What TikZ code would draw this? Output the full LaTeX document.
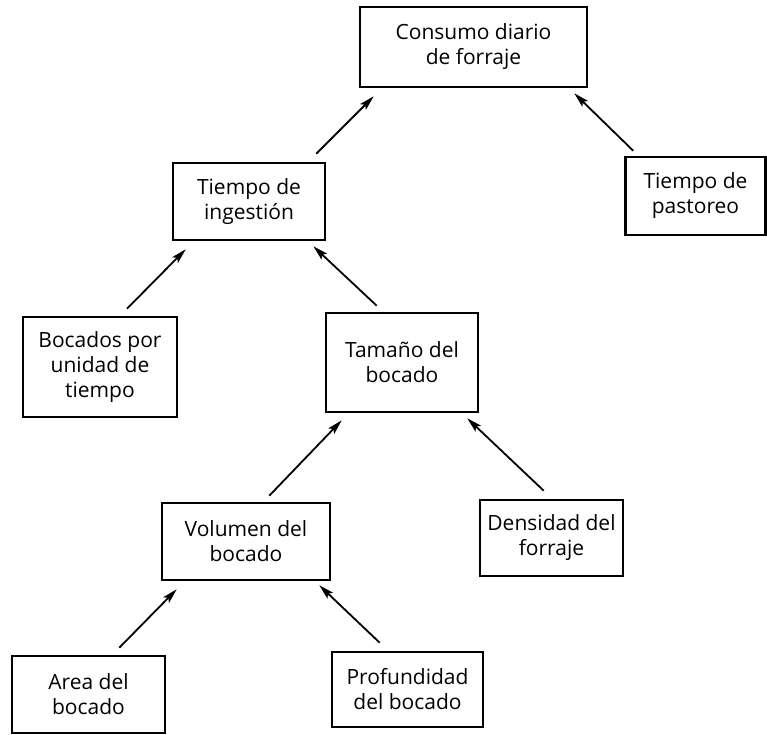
\documentclass[tikz,border=0pt]{standalone}
\usepackage{fontspec}
\setmainfont{Open Sans}
\usetikzlibrary{arrows.meta,calc}
\begin{document}
\begin{tikzpicture}[x=1pt,y=-1pt,
  box/.style={draw,line width=2.6pt,inner sep=0pt,align=center,
    font=\fontsize{21}{25}\selectfont},
  arr/.style={line width=1.8pt,-{Stealth[length=15pt,width=8pt,inset=3pt]}}]
\useasboundingbox (0,0) rectangle (767,734);
\node[box,minimum width=227,minimum height=80] (cd) at (473.5,47) {Consumo diario\\de forraje};
\node[box,minimum width=152,minimum height=77] (ti) at (249,201.5) {Tiempo de\\ingestión};
\node[box,minimum width=140,minimum height=78] (tp) at (695.5,196) {Tiempo de\\pastoreo};
\node[box,minimum width=154,minimum height=100] (bo) at (100,367) {Bocados por\\unidad de\\tiempo};
\node[box,minimum width=152,minimum height=99] (ta) at (402,362.5) {Tamaño del\\bocado};
\node[box,minimum width=168,minimum height=77] (vo) at (246,541.5) {Volumen del\\bocado};
\node[box,minimum width=143,minimum height=76] (de) at (551.5,538) {Densidad del\\forraje};
\node[box,minimum width=153,minimum height=77] (ar) at (88.5,694.5) {Area del\\bocado};
\node[box,minimum width=151,minimum height=75] (pr) at (407.5,689.5) {Profundidad\\del bocado};
\draw[arr] ($(ti.north east)+(-10,-8)$) -- ($(cd.south west)+(15,8)$);
\draw[arr] ($(tp.north west)+(9,-5)$) -- ($(cd.south east)+(-14,5)$);
\draw[arr] ($(bo.north)+(27,-7)$) -- ($(ti.south west)+(14,8)$);
\draw[arr] ($(ta.north west)+(52,-6)$) -- ($(ti.south east)+(-13,5)$);
\draw[arr] ($(vo.north east)+(-62,-6)$) -- ($(ta.south west)+(17,7)$);
\draw[arr] ($(de.north west)+(65,-8)$) -- ($(ta.south east)+(-12,5)$);
\draw[arr] ($(ar.north east)+(-47,-7)$) -- ($(vo.south west)+(16,8)$);
\draw[arr] ($(pr.north west)+(49,-8)$) -- ($(vo.south east)+(-12,4)$);
\end{tikzpicture}
\end{document}
